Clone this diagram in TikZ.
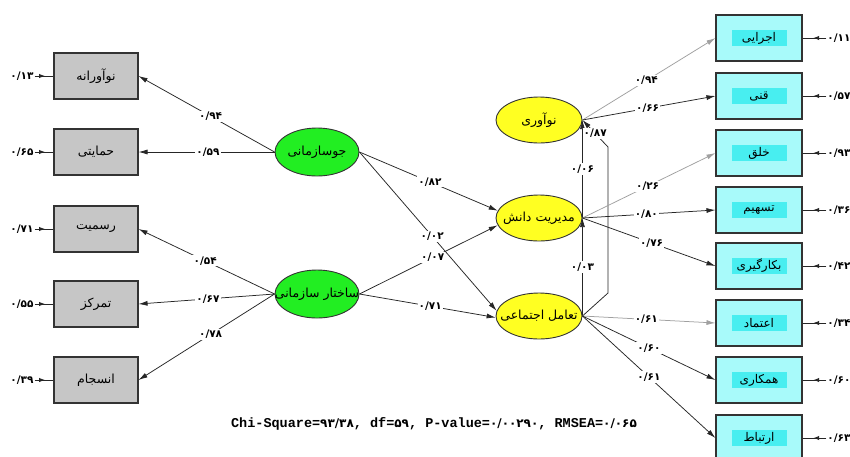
\documentclass[tikz,border=0pt]{standalone}
\usepackage{fontspec}
\usetikzlibrary{shapes.geometric,arrows.meta,decorations.markings}
\TeXXeTstate=1
\newfontfamily\fa[Script=Arabic]{DejaVu Sans}
\newfontfamily\monofa{Liberation Mono}
\newcommand\pword[1]{{\fa\beginR #1\endR}}
\newcommand\pnum[1]{{\fa\bfseries #1}}
\definecolor{boxgray}{HTML}{C6C6C6}
\definecolor{boxcyan}{HTML}{A8FAFA}
\definecolor{hlcyan}{HTML}{48EEF0}
\definecolor{egreen}{HTML}{22EE22}
\definecolor{eyellow}{HTML}{FFFF22}
\definecolor{lgray}{HTML}{A0A0A0}
\begin{document}
\begin{tikzpicture}[x=1pt,y=-1pt,
  gbox/.style={draw=black!80,line width=1.1pt,fill=boxgray,minimum width=84pt,minimum height=46pt,inner sep=0pt,font=\fontsize{12.5}{14}\selectfont},
  cbox/.style={draw=black!80,line width=1.1pt,fill=boxcyan,minimum width=86pt,minimum height=46pt,inner sep=0pt},
  ctext/.style={fill=hlcyan,minimum width=55pt,minimum height=16pt,inner sep=1pt,font=\fontsize{12}{14}\selectfont},
  gell/.style={ellipse,draw=black!80,line width=0.9pt,fill=egreen,minimum width=84pt,minimum height=48pt,inner sep=0pt},
  yell/.style={ellipse,draw=black!80,line width=0.9pt,fill=eyellow,minimum width=86pt,minimum height=46pt,inner sep=0pt},
  etext/.style={inner sep=0pt,font=\fontsize{12.5}{15}\selectfont},
  lab/.style={fill=white,inner sep=1.2pt,font=\fontsize{10.5}{12}\selectfont},
  elab/.style={inner sep=1pt,font=\fontsize{10.5}{12}\selectfont},
  arr/.style={draw=black!85,line width=0.75pt,-{Latex[length=9pt,width=5pt]}},
  garr/.style={draw=lgray,line width=0.75pt,-{Latex[length=9pt,width=5pt]}},
  err/.style={draw=black!85,line width=1pt,postaction={decorate},
    decoration={markings,mark=at position 0.55 with {\arrow{Latex[length=6pt,width=4.5pt]}}}}
]
\useasboundingbox (0,0) rectangle (850,456);
\fill[white] (0,0) rectangle (850,456);

% left boxes
\node[gbox] (A1) at (96,76) {\pword{نوآورانه}};
\node[gbox] (A2) at (96,152) {\pword{حمایتی}};
\node[gbox] (A3) at (96,229) {\pword{رسمیت}};
\node[gbox] (A4) at (96,304) {\pword{تمرکز}};
\node[gbox] (A5) at (96,380) {\pword{انسجام}};

\node[elab] (e1) at (22,76) {\pnum{۰/۱۳}};
\node[elab] (e2) at (22,152) {\pnum{۰/۶۵}};
\node[elab] (e3) at (22,229) {\pnum{۰/۷۱}};
\node[elab] (e4) at (22,304) {\pnum{۰/۵۵}};
\node[elab] (e5) at (22,380) {\pnum{۰/۳۹}};
\foreach \i in {1,...,5}{\draw[err] (e\i.east) -- (A\i.west);}

% green ellipses
\node[gell] (js) at (317,152) {};
\node[etext] (jst) at (js) {\pword{جوسازمانی}};
\node[gell] (ss) at (317,294) {};
\node[etext] (sst) at (ss) {\pword{ساختار سازمانی}};

% yellow ellipses
\node[yell] (no) at (539,120) {};
\node[etext] (not) at (no) {\pword{نوآوری}};
\node[yell] (md) at (539,218) {};
\node[etext] (mdt) at (md) {\pword{مدیریت دانش}};
\node[yell] (ta) at (539,316) {};
\node[etext] (tat) at (ta) {\pword{تعامل اجتماعی}};

% right boxes
\node[cbox] (B1) at (759,38) {};
\node[ctext] (t1) at (B1) {\pword{اجرایی}};
\node[cbox] (B2) at (759,96) {};
\node[ctext] (t2) at (B2) {\pword{قنی}};
\node[cbox] (B3) at (759,153) {};
\node[ctext] (t3) at (B3) {\pword{خلق}};
\node[cbox] (B4) at (759,210) {};
\node[ctext] (t4) at (B4) {\pword{تسهیم}};
\node[cbox] (B5) at (759,266) {};
\node[ctext] (t5) at (B5) {\pword{بکارگیری}};
\node[cbox] (B6) at (759,323) {};
\node[ctext] (t6) at (B6) {\pword{اعتماد}};
\node[cbox] (B7) at (759,380) {};
\node[ctext] (t7) at (B7) {\pword{همکاری}};
\node[cbox] (B8) at (759,438) {};
\node[ctext] (t8) at (B8) {\pword{ارتباط}};

\node[elab] (r1) at (839,38) {\pnum{۰/۱۱}};
\node[elab] (r2) at (839,96) {\pnum{۰/۵۷}};
\node[elab] (r3) at (839,153) {\pnum{۰/۹۳}};
\node[elab] (r4) at (839,210) {\pnum{۰/۳۶}};
\node[elab] (r5) at (839,266) {\pnum{۰/۴۲}};
\node[elab] (r6) at (839,323) {\pnum{۰/۳۴}};
\node[elab] (r7) at (839,380) {\pnum{۰/۶۰}};
\node[elab] (r8) at (839,438) {\pnum{۰/۶۳}};
\foreach \i in {1,...,8}{\draw[err] (r\i.west) -- (B\i.east);}

% left connectors
\draw[arr] (js.west) -- node[lab,pos=.47]{\pnum{۰/۹۴}} (A1.east);
\draw[arr] (js.west) -- node[lab,pos=.49]{\pnum{۰/۵۹}} (A2.east);
\draw[arr] (ss.west) -- node[lab,pos=.51]{\pnum{۰/۵۴}} (A3.east);
\draw[arr] (ss.west) -- node[lab,pos=.49]{\pnum{۰/۶۷}} (A4.east);
\draw[arr] (ss.west) -- node[lab,pos=.47]{\pnum{۰/۷۸}} (A5.east);

% middle connectors
\draw[arr] (js.east) -- node[lab,pos=.51]{\pnum{۰/۸۲}} (md.170);
\draw[arr] (js.east) -- node[lab,pos=.53]{\pnum{۰/۰۲}} (ta.173);
\draw[arr] (ss.east) -- node[lab,pos=.53]{\pnum{۰/۰۷}} (md.190);
\draw[arr] (ss.east) -- node[lab,pos=.52]{\pnum{۰/۷۱}} (ta.182);

% structural among endogenous
\coordinate (k1) at (608,293);
\coordinate (k2) at (608,147);
\draw[arr] (ta.east) -- node[lab,pos=.5]{\pnum{۰/۰۳}} (md.east);
\draw[arr] (md.east) -- node[lab,pos=.5]{\pnum{۰/۰۶}} (no.east);
\draw[arr] (ta.east) -- (k1) -- (k2) -- node[lab,pos=.5]{\pnum{۰/۸۷}} (no.east);

% right connectors
\draw[garr] (no.east) -- node[lab,pos=.48]{\pnum{۰/۹۴}} (B1.west);
\draw[arr] (no.east) -- node[lab,pos=.49]{\pnum{۰/۶۶}} (B2.west);
\draw[garr] (md.east) -- node[lab,pos=.49]{\pnum{۰/۲۶}} (B3.west);
\draw[arr] (md.east) -- node[lab,pos=.48]{\pnum{۰/۸۰}} (B4.west);
\draw[arr] (md.east) -- node[lab,pos=.52]{\pnum{۰/۷۶}} (B5.west);
\draw[garr] (ta.east) -- node[lab,pos=.48]{\pnum{۰/۶۱}} (B6.west);
\draw[arr] (ta.east) -- node[lab,pos=.5]{\pnum{۰/۶۰}} (B7.west);
\draw[arr] (ta.east) -- node[lab,pos=.5]{\pnum{۰/۶۱}} (B8.west);

% fit statistics
\node[inner sep=0pt] (stats) at (434,424) {\fontsize{13.5}{15}\selectfont\monofa\bfseries Chi-Square=\pnum{\fontsize{12}{14}\selectfont ۹۳/۳۸}, df=\pnum{\fontsize{12}{14}\selectfont ۵۹}, P-value=\pnum{\fontsize{12}{14}\selectfont ۰/۰۰۲۹۰}, RMSEA=\pnum{\fontsize{12}{14}\selectfont ۰/۰۶۵}};
\end{tikzpicture}
\end{document}
